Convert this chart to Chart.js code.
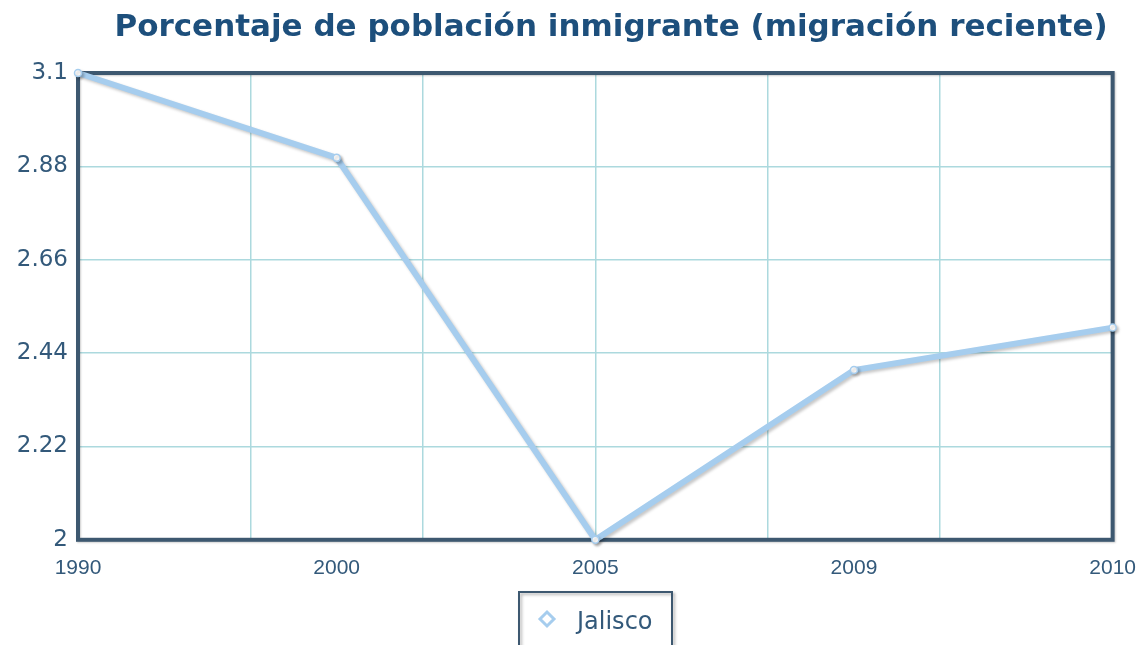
<!DOCTYPE html>
<html>
<head>
<meta charset="utf-8">
<script src="https://cdn.jsdelivr.net/npm/chart.js@4"></script>
<style>
  html, body { margin:0; padding:0; background:#fff; }
  #wrap { width:1144px; height:645px; position:relative; }
</style>
</head>
<body>
<div id="wrap"><canvas id="chart"></canvas></div>
<script>
// datos
const years = ['1990', '2000', '2005', '2009', '2010'];
const jalisco = [3.1, 2.9, 2.0, 2.4, 2.5];
const yTicks = [2, 2.22, 2.44, 2.66, 2.88, 3.1];
const seriesName = 'Jalisco';
const chartTitle = 'Porcentaje de población inmigrante (migración reciente)';

const FRAME = '#3d5870';
const GRID = '#acd9de';
const LINE = '#a6cdee';
const TICK = '#33597a';

// título centrado a mano
const titlePlugin = {
  id: 'topTitle',
  afterDraw(chart){
    const ctx = chart.ctx;
    ctx.save();
    ctx.fillStyle = '#1d4f7c';
    ctx.font = 'bold 31px "DejaVu Sans"';
    ctx.textAlign = 'center';
    ctx.textBaseline = 'alphabetic';
    ctx.fillText(chartTitle, 611, 36);
    ctx.restore();
  }
};

// marco oscuro alrededor del área
const framePlugin = {
  id: 'frame',
  beforeDatasetsDraw(chart){
    const a = chart.chartArea;
    const ctx = chart.ctx;
    ctx.save();
    ctx.shadowColor = 'rgba(0,0,0,0.2)';
    ctx.shadowBlur = 2;
    ctx.shadowOffsetX = 1;
    ctx.shadowOffsetY = 1;
    ctx.strokeStyle = FRAME;
    ctx.lineWidth = 4;
    ctx.strokeRect(a.left, a.top, a.right - a.left, a.bottom - a.top);
    ctx.restore();
  }
};

// sombra de la línea
const shadowPlugin = {
  id: 'lineShadow',
  beforeDatasetDraw(chart){
    const ctx = chart.ctx;
    ctx.save();
    ctx.shadowColor = 'rgba(0,0,0,0.22)';
    ctx.shadowBlur = 3;
    ctx.shadowOffsetX = 2;
    ctx.shadowOffsetY = 2;
  },
  afterDatasetDraw(chart){
    chart.ctx.restore();
  }
};

// leyenda con recuadro
const boxLegend = {
  id: 'boxLegend',
  afterDraw(chart){
    const a = chart.chartArea;
    const ctx = chart.ctx;
    const cx = (a.left + a.right) / 2;
    const w = 153, top = 592;
    const left = Math.round(cx - w / 2);
    ctx.save();
    ctx.shadowColor = 'rgba(0,0,0,0.3)';
    ctx.shadowBlur = 3;
    ctx.shadowOffsetX = 2;
    ctx.shadowOffsetY = 2;
    ctx.strokeStyle = FRAME;
    ctx.lineWidth = 2;
    ctx.strokeRect(left, top, w, 80);
    ctx.restore();

    ctx.save();
    ctx.fillStyle = '#fff';
    ctx.strokeStyle = LINE;
    ctx.lineWidth = 3;
    Chart.helpers.drawPoint(ctx, { pointStyle: 'rectRot', radius: 7, borderWidth: 3 }, left + 28, top + 27);
    ctx.fillStyle = TICK;
    ctx.font = '24px "DejaVu Sans"';
    ctx.textBaseline = 'middle';
    ctx.fillText(chart.data.datasets[0].label, left + 58, top + 31);
    ctx.restore();
  }
};

new Chart(document.getElementById('chart'), {
  type: 'line',
  data: {
    labels: years,
    datasets: [{
      label: seriesName,
      data: jalisco,
      borderColor: LINE,
      borderWidth: 6,
      pointRadius: 3.5,
      pointBackgroundColor: '#fff',
      pointBorderColor: LINE,
      pointBorderWidth: 1.5,
      tension: 0,
      clip: false
    }]
  },
  options: {
    responsive: true,
    maintainAspectRatio: false,
    animation: false,
    layout: { padding: { left: 0, right: 28, top: 73, bottom: 56 } },
    plugins: {
      legend: { display: false },
      tooltip: { enabled: false },
      title: { display: false }
    },
    scales: {
      x: {
        type: 'category',
        offset: false,
        grid: { display: false },
        border: { display: false },
        ticks: {
          color: TICK,
          font: { family: 'Liberation Sans', size: 21 },
          maxRotation: 0,
          autoSkip: false,
          padding: 8
        }
      },
      x2: {
        type: 'linear',
        position: 'bottom',
        min: 0, max: 6,
        ticks: { display: false, stepSize: 1 },
        grid: { color: GRID, lineWidth: 1.5, drawTicks: false },
        border: { display: false },
        afterFit(scale){ scale.height = 0; }
      },
      y: {
        min: 2, max: 3.1,
        afterBuildTicks(scale){ scale.ticks = yTicks.map(v => ({ value: v })); },
        afterFit(scale){ scale.width = 78; },
        grid: { color: GRID, lineWidth: 1.5, drawTicks: false },
        border: { display: false },
        ticks: {
          color: TICK,
          padding: 10,
          font: { family: 'DejaVu Sans', size: 23 },
          callback: v => String(v)
        }
      }
    }
  },
  plugins: [framePlugin, shadowPlugin, boxLegend, titlePlugin]
});
</script>
</body>
</html>
